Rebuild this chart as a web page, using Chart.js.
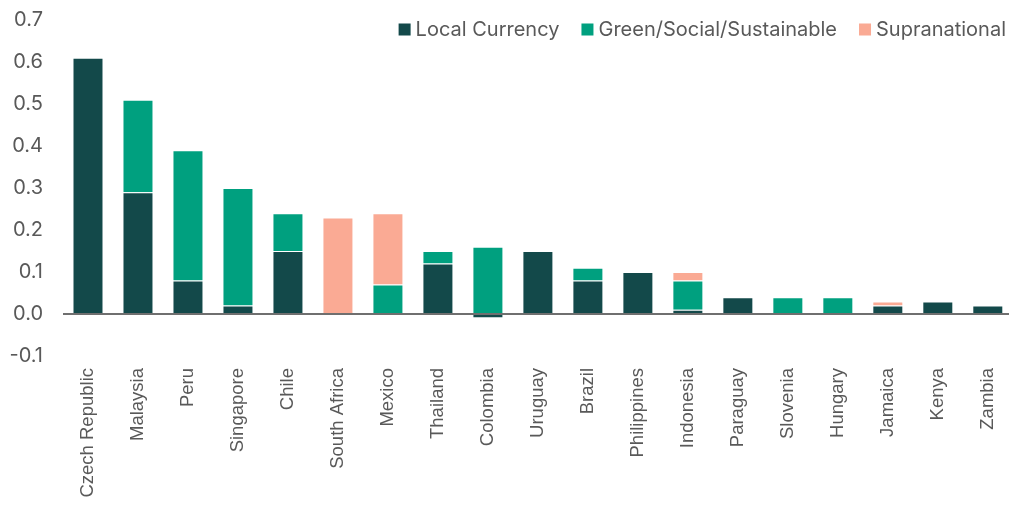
<!DOCTYPE html>
<html>
<head>
<meta charset="utf-8">
<script src="https://cdn.jsdelivr.net/npm/chart.js@4/dist/chart.umd.min.js"></script>
<style>
  html, body { margin: 0; padding: 0; background: #fff; overflow: hidden; }
  #wrap { width: 1022px; height: 513px; position: relative; }
</style>
</head>
<body>
<div id="wrap"><canvas id="grafic"></canvas></div>
<script>
// date
const tari = ['Czech Republic', 'Malaysia', 'Peru', 'Singapore', 'Chile', 'South Africa', 'Mexico',
  'Thailand', 'Colombia', 'Uruguay', 'Brazil', 'Philippines', 'Indonesia', 'Paraguay',
  'Slovenia', 'Hungary', 'Jamaica', 'Kenya', 'Zambia'];
const monedaLocala = [0.61, 0.29, 0.08, 0.02, 0.15, 0, 0, 0.12, -0.01, 0.15, 0.08, 0.10, 0.01, 0.04, 0, 0, 0.02, 0.03, 0.02];
const verdeSocial = [0, 0.22, 0.31, 0.28, 0.09, 0, 0.07, 0.03, 0.16, 0, 0.03, 0, 0.07, 0, 0.04, 0.04, 0, 0, 0];
const supranational = [0, 0, 0, 0, 0, 0.23, 0.17, 0, 0, 0, 0, 0, 0.02, 0, 0, 0, 0.01, 0, 0];
const ticksY = [-0.1, 0, 0.1, 0.2, 0.3, 0.4, 0.5, 0.6, 0.7];

const culoareText = '#595959';
const fontFam = 'Inter, "Liberation Sans", Arial, sans-serif';

// legenda desenata manual, aliniata la dreapta sus
const legendaPlugin = {
  id: 'legendaSus',
  afterDraw(chart) {
    const ctx = chart.ctx;
    const dreapta = 1006;
    const yMijloc = 29.5;
    const cutie = 12;
    const spatiuText = 5;
    const spatiuItem = 22;
    ctx.save();
    ctx.font = `20px ${fontFam}`;
    ctx.textBaseline = 'middle';
    ctx.textAlign = 'left';
    let x = dreapta;
    const itemi = chart.data.datasets.slice().reverse();
    itemi.forEach((ds) => {
      const w = ctx.measureText(ds.label).width;
      x -= w;
      ctx.fillStyle = culoareText;
      ctx.fillText(ds.label, x, yMijloc);
      x -= spatiuText + cutie;
      ctx.fillStyle = ds.backgroundColor;
      ctx.fillRect(x, yMijloc - cutie / 2, cutie, cutie);
      x -= spatiuItem;
    });
    ctx.restore();
  }
};

new Chart(document.getElementById('grafic'), {
  type: 'bar',
  data: {
    labels: tari,
    datasets: [
      { label: 'Local Currency', data: monedaLocala, backgroundColor: '#13494A', borderColor: 'rgba(255,255,255,0.3)', borderWidth: 1 },
      { label: 'Green/Social/Sustainable', data: verdeSocial, backgroundColor: '#00A07F', borderColor: 'rgba(255,255,255,0.3)', borderWidth: 1 },
      { label: 'Supranational', data: supranational, backgroundColor: '#FAAA94', borderColor: 'rgba(255,255,255,0.3)', borderWidth: 1 }
    ]
  },
  options: {
    responsive: true,
    maintainAspectRatio: false,
    animation: false,
    layout: { padding: { top: 20, right: 0, bottom: 0, left: 0 } },
    datasets: { bar: { categoryPercentage: 1, barPercentage: 0.62 } },
    plugins: {
      legend: { display: false },
      tooltip: { enabled: false }
    },
    scales: {
      x: {
        stacked: true,
        grid: { display: false, drawTicks: false },
        border: { display: false },
        ticks: {
          autoSkip: false,
          minRotation: 90,
          maxRotation: 90,
          padding: 12,
          color: culoareText,
          font: { family: '"Liberation Sans", Arial, sans-serif', size: 18.5 }
        },
        afterFit: (s) => { s.height = 157; }
      },
      y: {
        stacked: true,
        min: -0.1,
        max: 0.7,
        afterBuildTicks: (s) => { s.ticks = ticksY.map((v) => ({ value: v })); },
        grid: {
          drawTicks: true,
          tickLength: 20,
          tickColor: 'transparent',
          color: (c) => (c.tick && Math.abs(c.tick.value) < 1e-9 ? '#6f6f6f' : 'transparent'),
          lineWidth: 2
        },
        border: { display: false },
        ticks: {
          padding: 0,
          color: culoareText,
          font: { family: fontFam, size: 20 },
          callback: (v) => Number(v).toFixed(1)
        },
        afterFit: (s) => { s.width = 63; }
      }
    }
  },
  plugins: [legendaPlugin]
});
</script>
</body>
</html>
